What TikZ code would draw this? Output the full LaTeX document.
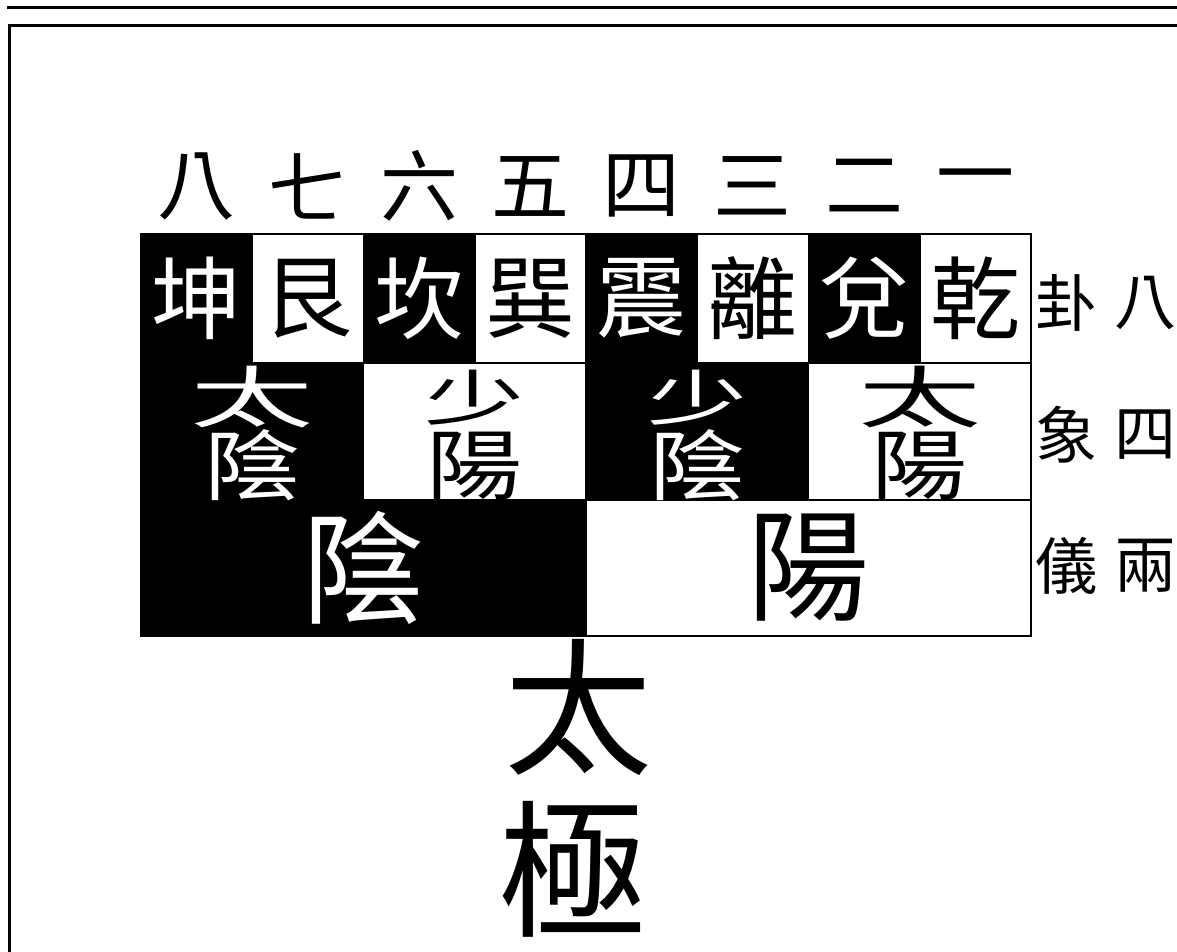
\documentclass[tikz,border=0pt]{standalone}
\usepackage{fontspec}
\newfontfamily\cjk{Noto Sans CJK TC}
\begin{document}
\begin{tikzpicture}[x=1pt,y=-1pt,
  cellbase/.style={draw=black, line width=1.6pt, inner sep=0pt, outer sep=0pt, anchor=north west},
  blk/.style={cellbase, fill=black, text=white},
  wht/.style={cellbase, fill=white, text=black},
  gua/.style={font=\cjk\fontsize{90}{90}\selectfont},
  num/.style={font=\cjk\fontsize{78}{78}\selectfont, inner sep=0pt},
  side/.style={font=\cjk\fontsize{62}{62}\selectfont, inner sep=0pt},
  yi/.style={font=\cjk\fontsize{122}{122}\selectfont},
  tj/.style={font=\cjk\fontsize{148}{148}\selectfont, inner sep=0pt},
  stk/.style={inner sep=0pt},
  rule/.style={line width=3pt}
]
\useasboundingbox (0,0) rectangle (1177,952);
% page rules
\coordinate (tl) at (7,8);
\coordinate (tr) at (1177,8);
\draw[rule] (tl) -- (tr);
\coordinate (fa) at (9,952);
\coordinate (fb) at (9,26);
\coordinate (fc) at (1177,26);
\draw[rule] (fa) -- (fb) -- (fc);
% top numerals
\node[num] (n8) at (196.6,186) {八};
\node[num] (n7) at (307.9,186) {七};
\node[num] (n6) at (419.1,186) {六};
\node[num] (n5) at (530.4,186) {五};
\node[num] (n4) at (641.6,186) {四};
\node[num] (n3) at (752.9,186) {三};
\node[num] (n2) at (864.1,186) {二};
\node[num] (n1) at (975.4,186) {一};
% row 1: eight trigrams
\begin{scope}[every node/.append style={minimum width=111.25pt, minimum height=129pt}]
\node[blk,gua] (kun)  at (141,234) {坤};
\node[wht,gua] (gen)  at (252.25,234) {艮};
\node[blk,gua] (kan)  at (363.5,234) {坎};
\node[wht,gua] (xun)  at (474.75,234) {巽};
\node[blk,gua] (zhen) at (586,234) {震};
\node[wht,gua] (li)   at (697.25,234) {離};
\node[blk,gua] (dui)  at (808.5,234) {兌};
\node[wht,gua] (qian) at (919.75,234) {乾};
\end{scope}
% row 2: four images
\begin{scope}[every node/.append style={minimum width=222.5pt, minimum height=137pt}]
\node[blk] (taiyin)   at (141,363) {};
\node[wht] (shaoyang) at (363.5,363) {};
\node[blk] (shaoyin)  at (586,363) {};
\node[wht] (taiyang)  at (808.5,363) {};
\end{scope}
% row 3: two modes
\begin{scope}[every node/.append style={minimum width=445pt, minimum height=136pt}]
\node[blk,yi] (yin)  at (141,500) {陰};
\node[wht,yi] (yang) at (586,500) {陽};
\end{scope}
% stacked characters of row 2
\node[stk,text=white] (ty1) at ([yshift=34pt]taiyin.center)
  {\scalebox{1.1}[0.6]{\cjk\fontsize{112}{112}\selectfont 太}};
\node[stk,text=white] (ty2) at ([yshift=-34pt]taiyin.center)
  {\scalebox{1.0}[0.8]{\cjk\fontsize{96}{96}\selectfont 陰}};
\node[stk,text=black] (sy1) at ([yshift=34pt]shaoyang.center)
  {\scalebox{1.0}[0.6]{\cjk\fontsize{100}{100}\selectfont 少}};
\node[stk,text=black] (sy2) at ([yshift=-34pt]shaoyang.center)
  {\scalebox{1.0}[0.8]{\cjk\fontsize{96}{96}\selectfont 陽}};
\node[stk,text=white] (sn1) at ([yshift=34pt]shaoyin.center)
  {\scalebox{1.0}[0.6]{\cjk\fontsize{100}{100}\selectfont 少}};
\node[stk,text=white] (sn2) at ([yshift=-34pt]shaoyin.center)
  {\scalebox{1.0}[0.8]{\cjk\fontsize{96}{96}\selectfont 陰}};
\node[stk,text=black] (tg1) at ([yshift=34pt]taiyang.center)
  {\scalebox{1.1}[0.6]{\cjk\fontsize{112}{112}\selectfont 太}};
\node[stk,text=black] (tg2) at ([yshift=-34pt]taiyang.center)
  {\scalebox{1.0}[0.8]{\cjk\fontsize{96}{96}\selectfont 陽}};
% side labels
\node[side] (s1a) at (1066,303) {卦};
\node[side] (s1b) at (1145,303) {八};
\node[side] (s2a) at (1066,435) {象};
\node[side] (s2b) at (1145,435) {四};
\node[side] (s3a) at (1066,566) {儀};
\node[side] (s3b) at (1145,566) {兩};
% taiji
\node[tj] (tai) at (578,707) {太};
\node[tj] (ji)  at (572,869) {極};
\end{tikzpicture}
\end{document}
